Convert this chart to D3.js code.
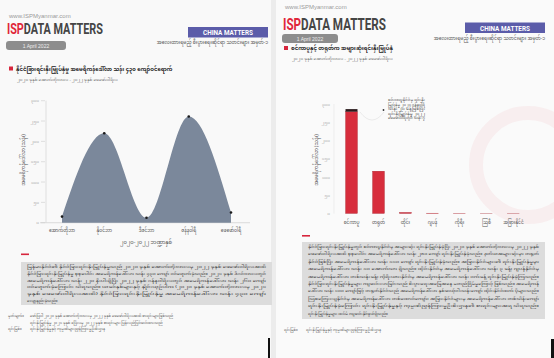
<!DOCTYPE html>
<html><head><meta charset="utf-8">
<script src="https://cdn.jsdelivr.net/npm/d3@7"></script>
<style>
html,body{margin:0;padding:0;background:#ededed;}
svg{display:block;}
.my{font-family:"Noto Sans Myanmar","Padauk","Myanmar Text","Noto Sans",sans-serif;}
.cond{font-family:"Roboto","Liberation Sans",sans-serif;}
</style></head>
<body>
<svg id="c" width="554" height="358"></svg>
<script>
// ---------- data ----------
const months = ["အောက်တိုဘာ","နိုဝင်ဘာ","ဒီဇင်ဘာ","ဇန်နဝါရီ","ဖေဖော်ဝါရီ"];
const fdiValues = [15, 220, 12, 261, 25];
const countries = ["စင်ကာပူ","တရုတ်","ထိုင်း","ဂျပန်","ကိုရီး","ဩစီ","အခြားနိုင်ငံ"];
const countryValues = [279, 116, 3, 1, 0.5, 0.2, 0.2];
const countryExtra = [7, 0, 0, 0, 0, 0, 0];
const yTicks = [0, 50, 100, 150, 200, 250, 300];
const yTickLabels = ["၀","၅၀","၁၀၀","၁၅၀","၂၀၀","၂၅၀","၃၀၀"];

const leftTitle = "နိုင်ငံခြားရင်းနှီးမြှုပ်နှံမှု အမေရိကန်ဒေါ်လာ သန်း ၄၃၀ ကျော်ဝင်ရောက်";
const rightTitle = "စင်ကာပူနှင့် တရုတ်က အများဆုံးရင်းနှီးမြှုပ်နှံ";
const subTitle = "၂၀၂၀ ခုနှစ် အောက်တိုဘာလ - ၂၀၂၂ ခုနှစ် ဖေဖော်ဝါရီလ";
const yTitle = "အမေရိကန်ဒေါ်လာ (သန်း)";
const xTitleLeft = "၂၀၂၀-၂၀၂၂ ဘဏ္ဍာနှစ်";
const headerNote = "အလေးထားရမည့် စီးပွားရေးဆိုင်ရာ သတင်းများ အမှတ်-၁";
const leftPara = [
 "မြန်မာနိုင်ငံ၏ နိုင်ငံခြားရင်းနှီးမြှုပ်နှံမှုသည် ၂၀၂၀ ခုနှစ် အောက်တိုဘာလမှ ၂၀၂၂ ခုနှစ် ဖေဖော်ဝါရီလအထိ",
 "နိုင်ငံခြားရင်းနှီးမြှုပ်နှံမှု စုစုပေါင်း အမေရိကန်ဒေါ်လာ သန်း ၄၃၀ ကျော် ဝင်ရောက်ခဲ့သည်။ ၂၀၂၁ ခုနှစ် ဒီဇင်ဘာလတွင်",
 "အမေရိကန်ဒေါ်လာ သန်း ၂၂၀ နီးပါးရှိပြီး ၂၀၂၂ ခုနှစ် ဇန်နဝါရီလတွင် အမေရိကန်ဒေါ်လာ သန်း ၂၆၀ ကျော်",
 "ဝင်ရောက်ခဲ့ကြောင်း သိရသည်။ ယခင်နှစ်များနှင့် နှိုင်းယှဉ်ပါက (၂၀၂၀ ခုနှစ် အောက်တိုဘာလမှ ၂၀၂၁",
 "ခုနှစ် ဖေဖော်ဝါရီလအထိ) နိုင်ငံခြားရင်းနှီးမြှုပ်နှံမှု အမေရိကန်ဒေါ်လာ သန်း ၄၃၀ ကျော်",
 "လျော့နည်းခဲ့သည်။"
];
const rightPara = [
 "နိုင်ငံခြားရင်းနှီးမြှုပ်နှံမှုတွင် စင်ကာပူနိုင်ငံမှ အများဆုံး ရင်းနှီးမြှုပ်နှံခဲ့ပြီး ၂၀၂၀ ခုနှစ် အောက်တိုဘာလမှ ၂၀၂၂ ခုနှစ်",
 "ဖေဖော်ဝါရီလအထိ စုစုပေါင်း အမေရိကန်ဒေါ်လာ သန်း ၂၈၀ ကျော် ရင်းနှီးမြှုပ်နှံခဲ့သည်။ ဒုတိယအများဆုံးမှာ တရုတ်",
 "နိုင်ငံဖြစ်ပြီး အမေရိကန်ဒေါ်လာ သန်း ၁၁၀ ကျော် ရင်းနှီးမြှုပ်နှံခဲ့သည်။ အခြားနိုင်ငံများ၏ ရင်းနှီးမြှုပ်နှံမှုမှာ",
 "အမေရိကန်ဒေါ်လာ သန်း ၁၀ အောက်သာ ရှိသည်။ ထိုင်းနိုင်ငံမှ အမေရိကန်ဒေါ်လာ သန်း ၃ ခန့်၊ ဂျပန်နိုင်ငံမှ",
 "အမေရိကန်ဒေါ်လာ တစ်သန်းခန့်၊ ကိုရီးယားနိုင်ငံမှ အမေရိကန်ဒေါ်လာ သန်း ဝက်ခန့် ရင်းနှီးမြှုပ်နှံခဲ့ကြသည်။",
 "နိုင်ငံခြားရင်းနှီးမြှုပ်နှံမှုများ ကျဆင်းလာခြင်းသည် စီးပွားရေးအခြေအနေ မတည်ငြိမ်မှုကြောင့် ဖြစ်သည်။ အမေရိကန်",
 "ဒေါ်လာ သန်း ၁၀၀ ကျော်ဖြင့် တရုတ်နိုင်ငံသည် အမေရိကန်ဒေါ်လာ နှစ်ဆယ့်ငါးသန်းကျော် ထိုင်းနိုင်ငံထက် ပိုများသည်။",
 "ဩစတြေးလျနိုင်ငံမှ အမေရိကန်ဒေါ်လာ တစ်ထောင်ကျော်၊ အခြားနိုင်ငံများမှ အမေရိကန်ဒေါ်လာ တစ်သိန်းကျော်",
 "ရင်းနှီးမြှုပ်နှံခဲ့ကြောင်း ရင်းနှီးမြှုပ်နှံမှုနှင့် ကုမ္ပဏီညွှန်ကြားမှုဦးစီးဌာန၏ စာရင်းများအရ သိရသည်။",
 "ရင်းနှီးမြှုပ်နှံမှုများ ထပ်မံ ကျဆင်းနိုင်ဖွယ်ရှိသည်။"
];
const annotLines = ["စင်ကာပူနိုင်ငံမှ ရင်းနှီး","မြှုပ်နှံမှု ၂၀၂၁ ဇန်နဝါရီ","သန်း ၂၀ ခန့်ဖြစ်ပြီး","ရင်းနှီးမြှုပ်နှံမှု ၂၀၂၂","ဖေဖော်ဝါရီတွင် သန်း ၇"];
const notesLeft = [
 ["မှတ်ချက်။","ဖော်ပြပါ ၂၀၂၀ ခုနှစ် အောက်တိုဘာလမှ ၂၀၂၂ ခုနှစ် ဖေဖော်ဝါရီလအထိ စာရင်းများဖြစ်သည်"],
 ["","ရင်းနှီးမြှုပ်နှံမှု ၂၀၂၁ ခုနှစ် ဧပြီလမှ ၂၀၂၂ ခုနှစ် စာရင်းများ ပြန်လည်ပြင်ဆင်ထားသည်"],
 ["ရင်းမြစ်။","ရင်းနှီးမြှုပ်နှံမှုနှင့် ကုမ္ပဏီများညွှန်ကြားမှုဦးစီးဌာန"]
];
const notesRight = [["ရင်းမြစ်။","ရင်းနှီးမြှုပ်နှံမှုနှင့် ကုမ္ပဏီများညွှန်ကြားမှုဦးစီးဌာန"]];

// ---------- drawing ----------
const svg = d3.select("#c");
svg.append("rect").attr("width",554).attr("height",358).attr("fill","#ececec");
svg.append("rect").attr("x",0).attr("y",0).attr("width",271).attr("height",358).attr("fill","#f9f9f9");
svg.append("rect").attr("x",276).attr("y",0).attr("width",278).attr("height",358).attr("fill","#fafafa");

// watermark ring on right page
svg.append("circle").attr("cx",528).attr("cy",165).attr("r",52)
  .attr("fill","none").attr("stroke","#f8eeef").attr("stroke-width",14);

// text squeezed horizontally to a target width, via transform (keeps true bounding box)
function squeezed(g, x, y, anchorMid, targetW, build){
  const gg = g.append("g");
  const t = gg.append("text").attr("class","cond").attr("x",0).attr("y",0);
  build(t);
  const w = t.node().getComputedTextLength();
  const s = targetW / w;
  const x0 = anchorMid ? x - targetW/2 : x;
  gg.attr("transform",`translate(${x0},${y}) scale(${s},1)`);
  return t;
}

function header(g, o){
  g.append("text").attr("x",o.x).attr("y",o.wy).attr("font-size",6).attr("fill","#9a9a9a")
    .attr("font-family","Liberation Sans, sans-serif").text("www.ISPMyanmar.com");
  squeezed(g, o.x-2, o.my, false, o.mw, t=>{
    t.attr("font-size",o.fs).attr("font-weight","bold");
    t.append("tspan").attr("fill","#e0263a").text("ISP");
    t.append("tspan").attr("fill","#454545").text("DATA MATTERS");
  });
  g.append("rect").attr("x",o.x-3).attr("y",o.dy).attr("width",o.dw).attr("height",9).attr("rx",3)
    .attr("fill","#8d8d8d");
  g.append("text").attr("x",o.x-3+o.dw/2).attr("y",o.dy+6.5).attr("text-anchor","middle")
    .attr("font-size",5).attr("fill","#eeeeee").attr("font-family","Liberation Sans, sans-serif").text("1 April 2022");
  g.append("rect").attr("x",o.bx).attr("y",o.by).attr("width",80).attr("height",10.5).attr("fill","#5b5ca9");
  squeezed(g, o.bx+40, o.by+8, true, 50, t=>{
    t.attr("font-size",8).attr("font-weight","bold").attr("fill","#ffffff").text("CHINA MATTERS");
  });
  g.append("text").attr("class","my").attr("x",o.bx+80).attr("y",o.by+17).attr("text-anchor","end")
    .attr("font-size",4.6).attr("fill","#555").text(headerNote);
  g.append("rect").attr("x",o.tx-7).attr("y",o.ty-4).attr("width",4).attr("height",4).attr("fill","#d7263d");
  g.append("text").attr("class","my").attr("x",o.tx).attr("y",o.ty).attr("font-size",5.3).attr("font-weight","bold")
    .attr("fill","#222").text(o.title);
  g.append("text").attr("class","my").attr("x",o.tx+1).attr("y",o.ty+10).attr("font-size",4.2)
    .attr("fill","#666").text(subTitle);
}

header(svg.append("g"), {x:9,wy:18,my:33.5,fs:14.5,mw:96,dy:41,dw:60,bx:188,by:27,tx:16,ty:70.5,title:leftTitle});
header(svg.append("g"), {x:285,wy:9,my:30,fs:17,mw:103,dy:34,dw:56,bx:465,by:22.5,tx:291,ty:50,title:rightTitle});

// ---------- left chart ----------
const xL = d3.scalePoint().domain(months).range([62,231]);
const yL = d3.scaleLinear().domain([0,300]).range([222.7,100.7]);
const gL = svg.append("g");
gL.append("line").attr("x1",40).attr("x2",250).attr("y1",yL(0)).attr("y2",yL(0)).attr("stroke","#cfcfcf").attr("stroke-width",0.7);
gL.append("line").attr("x1",46).attr("x2",46).attr("y1",yL(300)).attr("y2",yL(0)).attr("stroke","#d4d4d4").attr("stroke-width",0.7);
yTicks.forEach((v,i)=>{
  gL.append("line").attr("x1",41).attr("x2",45).attr("y1",yL(v)).attr("y2",yL(v)).attr("stroke","#cccccc").attr("stroke-width",0.6);
  gL.append("text").attr("class","my").attr("x",39).attr("y",yL(v)+1.5).attr("text-anchor","end")
    .attr("font-size",4.2).attr("fill","#999").text(yTickLabels[i]);
});
const pts = months.map((m,i)=>[xL(m), yL(fdiValues[i])]);
const area = d3.area().x(d=>d[0]).y0(yL(0)).y1(d=>d[1]).curve(d3.curveMonotoneX);
gL.append("path").datum(pts).attr("d",area).attr("fill","#7b889b");
gL.selectAll("circle.pt").data(pts).join("circle").attr("cx",d=>d[0]).attr("cy",d=>d[1]).attr("r",1.3).attr("fill","#1a1a1a");
months.forEach(m=>{
  gL.append("text").attr("class","my").attr("x",xL(m)).attr("y",232).attr("text-anchor","middle")
    .attr("font-size",4.4).attr("fill","#555").text(m);
});
gL.append("text").attr("class","my").attr("x",146).attr("y",244).attr("text-anchor","middle")
  .attr("font-size",5.2).attr("fill","#555").text(xTitleLeft);
gL.append("text").attr("class","my").attr("transform","translate(25,160) rotate(-90)").attr("text-anchor","middle")
  .attr("font-size",4.8).attr("fill","#555").text(yTitle);

// ---------- right chart ----------
const xR = d3.scaleBand().domain(countries).range([338,527]).paddingInner(0.556).paddingOuter(0.278);
const yR = d3.scaleLinear().domain([0,300]).range([213.5,104]);
const gR = svg.append("g");
gR.append("line").attr("x1",334).attr("x2",334).attr("y1",yR(300)).attr("y2",yR(0)).attr("stroke","#e6e6e6").attr("stroke-width",0.6);
yTicks.forEach((v,i)=>{
  gR.append("text").attr("class","my").attr("x",330).attr("y",yR(v)+1.5).attr("text-anchor","end")
    .attr("font-size",4.2).attr("fill","#a0a0a0").text(yTickLabels[i]);
});
gR.selectAll("rect.bar").data(countries).join("rect")
  .attr("x",d=>xR(d)).attr("width",xR.bandwidth())
  .attr("y",(d,i)=>yR(countryValues[i])).attr("height",(d,i)=>yR(0)-yR(countryValues[i]))
  .attr("fill","#d72d3c").attr("stroke","#9a1f2a").attr("stroke-width",0.3);
gR.selectAll("rect.top").data(countries).join("rect")
  .attr("x",d=>xR(d)).attr("width",xR.bandwidth())
  .attr("y",(d,i)=>yR(countryValues[i]+countryExtra[i])).attr("height",(d,i)=>yR(countryValues[i])-yR(countryValues[i]+countryExtra[i]))
  .attr("fill","#2a1a1c");
countries.forEach(c=>{
  gR.append("text").attr("class","my").attr("x",xR(c)+xR.bandwidth()/2).attr("y",224).attr("text-anchor","middle")
    .attr("font-size",4.4).attr("fill","#555").text(c);
});
gR.append("text").attr("class","my").attr("transform","translate(318,160) rotate(-90)").attr("text-anchor","middle")
  .attr("font-size",4.8).attr("fill","#555").text(yTitle);
// annotation
gR.append("path").attr("d","M384,112 Q372,128 360,112").attr("fill","none").attr("stroke","#e6e6e6").attr("stroke-width",0.8);
gR.append("circle").attr("cx",383.5).attr("cy",110).attr("r",0.9).attr("fill","#333");
annotLines.forEach((l,i)=>{
  gR.append("text").attr("class","my").attr("x",388).attr("y",101+i*4.6).attr("font-size",2.6)
    .attr("fill","#444").attr("textLength",37).attr("lengthAdjust","spacingAndGlyphs").text(l);
});

// ---------- text boxes ----------
function para(x,y,w,h,lines,lh,redY){
  svg.append("rect").attr("x",x).attr("y",redY).attr("width",8).attr("height",1.6).attr("fill","#d7263d");
  svg.append("rect").attr("x",x).attr("y",y).attr("width",w).attr("height",h).attr("fill","#dcdcdc");
  lines.forEach((l,i)=>{
    const last = i===lines.length-1;
    const t = svg.append("text").attr("class","my").attr("x",x+6).attr("y",y+6+i*lh)
      .attr("font-size",3.9).attr("fill","#333").text(l);
    if(!last) t.attr("textLength",w-12).attr("lengthAdjust","spacingAndGlyphs");
  });
}
para(21,262,251,43,leftPara,6.8,253.5);
para(302,242,243,77,rightPara,7.4,235);

function notes(x,y,rows){
  rows.forEach((r,i)=>{
    svg.append("text").attr("class","my").attr("x",x).attr("y",y+i*6.6).attr("font-size",3.7).attr("fill","#555").text(r[0]);
    svg.append("text").attr("class","my").attr("x",x+22).attr("y",y+i*6.6).attr("font-size",3.7).attr("fill","#555").text(r[1]);
  });
}
notes(8,317,notesLeft);
notes(284,331,notesRight);

// screen artifacts
svg.append("rect").attr("x",268).attr("y",338).attr("width",2).attr("height",20).attr("fill","#111");
svg.append("rect").attr("x",551).attr("y",339).attr("width",3).attr("height",19).attr("fill","#111");
</script>
</body></html>
